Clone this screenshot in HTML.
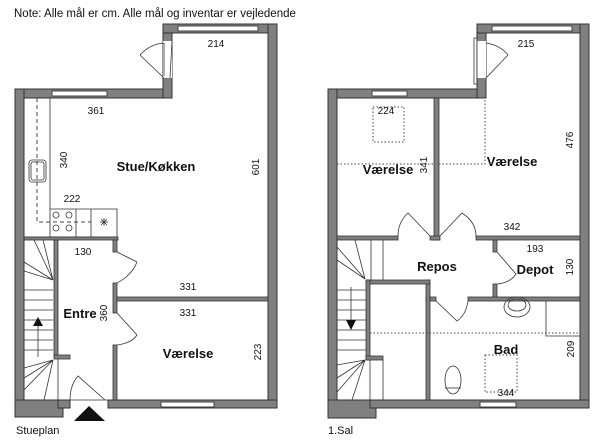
<!DOCTYPE html>
<html><head><meta charset="utf-8"><style>
html,body{margin:0;padding:0;background:#fff;}
svg{display:block;}
text{font-family:"Liberation Sans",sans-serif;fill:#111;}
.w{fill:#808080;stroke:#333;stroke-width:1;}
.t{fill:#808080;stroke:#333;stroke-width:0.8;}
.win{fill:#fff;stroke:#444;stroke-width:1;}
.l{stroke:#333;stroke-width:0.8;fill:none;}
.d{stroke:#444;stroke-width:1;fill:none;stroke-dasharray:4 3;}
.dt{stroke:#444;stroke-width:1;fill:none;stroke-dasharray:1.5 2;}
.b{font-weight:bold;font-size:13px;}
.n{font-size:10px;}
</style></head><body>
<svg width="600" height="442" viewBox="0 0 600 442">
<text x="14" y="17" font-size="11.5">Note: Alle mål er cm. Alle mål og inventar er vejledende</text>

<!-- ============ LEFT PLAN ============ -->
<rect class="w" x="15" y="89" width="157" height="9"/>
<rect class="w" x="163" y="24" width="9" height="74"/>
<rect class="w" x="163" y="24" width="114" height="9"/>
<rect class="w" x="268" y="24" width="9" height="384"/>
<rect class="w" x="15" y="89" width="9" height="328"/>
<rect class="w" x="15" y="400" width="48" height="17"/>
<rect class="w" x="58" y="400" width="12" height="8"/>
<rect class="w" x="108" y="400" width="169" height="8"/>
<!-- windows -->
<rect class="win" x="52" y="91" width="55" height="5"/>
<rect class="win" x="178" y="26" width="80" height="5"/>
<rect class="win" x="161" y="402" width="53" height="5"/>
<!-- door top -->
<rect x="163" y="41" width="9" height="37" fill="#fff" stroke="none"/>
<path class="l" d="M172 41 L170 78 M164 43 L164 76 M140 55 L164 78 M140 55 Q150 44 164 43"/>
<!-- kitchen -->
<path class="l" d="M24 98 H50 V209 H117 V237 H24"/>
<path class="l" d="M50 209 V237 M76 209 V237 M91 209 V237"/>
<path class="d" d="M37 98 V222 H91"/>
<rect class="l" x="29" y="160" width="17" height="22" rx="3"/>
<rect class="l" x="31" y="162" width="13" height="18" rx="2"/>
<circle class="l" cx="56" cy="215" r="3"/><circle class="l" cx="69" cy="215" r="3"/>
<circle class="l" cx="56" cy="228" r="3"/><circle class="l" cx="69" cy="228" r="3"/>
<path class="l" d="M100 222 h8 M104 218 v8 M101 219 l6 6 M107 219 l-6 6"/>
<!-- wall kitchen/stairs -->
<rect class="t" x="24" y="237" width="94" height="3"/>
<!-- entre walls -->
<rect class="t" x="54" y="240" width="4" height="117"/>
<rect class="t" x="54" y="355" width="16" height="4"/>
<rect class="t" x="113" y="240" width="4" height="12"/>
<rect class="t" x="113" y="283" width="4" height="30"/>
<rect class="t" x="113" y="345" width="4" height="55"/>
<rect class="t" x="117" y="297" width="151" height="4"/>
<path class="l" d="M117 252 L137 262 M117 283 Q132 275 137 262 M117 313 L137 335 M117 345 Q132 343 137 335"/>
<!-- stairs left -->
<path class="l" d="M24 262 L53 280 M24 271 L53 280 M34 240 L53 280 M43 240 L53 280"/>
<path class="l" d="M24 290 H53 M24 300 H53 M24 310 H53 M24 320 H53 M24 330 H53 M24 340 H53 M24 350 H53"/>
<path class="l" d="M24 368 L53 360 M24 378 L53 360 M24 390 L53 360 M44 400 L53 360 M58 359 V400"/>
<path class="l" d="M38 323 V357"/><path d="M33 326 L43 326 L38 317 Z" fill="#111"/>
<!-- entrance door -->
<path class="l" d="M70 400 Q70 385 78 376 L105 400 M70 400 H108"/>
<path d="M74 421 L105 421 L89 406 Z" fill="#111"/>
<!-- labels left -->
<text class="n" x="216" y="47" text-anchor="middle">214</text>
<text class="n" x="96" y="114" text-anchor="middle">361</text>
<text class="n" transform="translate(67,160) rotate(-90)" text-anchor="middle">340</text>
<text class="b" x="156" y="171" text-anchor="middle">Stue/Køkken</text>
<text class="n" transform="translate(259,167) rotate(-90)" text-anchor="middle">601</text>
<text class="n" x="72" y="202" text-anchor="middle">222</text>
<text class="n" x="83" y="255" text-anchor="middle">130</text>
<text class="n" x="188" y="290" text-anchor="middle">331</text>
<text class="n" x="188" y="316" text-anchor="middle">331</text>
<text class="b" x="80" y="318" text-anchor="middle">Entre</text>
<text class="n" transform="translate(107,313) rotate(-90)" text-anchor="middle">360</text>
<text class="b" x="188" y="358" text-anchor="middle">Værelse</text>
<text class="n" transform="translate(261,352) rotate(-90)" text-anchor="middle">223</text>
<text x="16" y="434" font-size="11">Stueplan</text>

<!-- ============ RIGHT PLAN ============ -->
<rect class="w" x="328" y="89" width="158" height="9"/>
<rect class="w" x="477" y="24" width="9" height="74"/>
<rect class="w" x="477" y="24" width="112" height="9"/>
<rect class="w" x="580" y="24" width="9" height="384"/>
<rect class="w" x="328" y="89" width="9" height="329"/>
<rect class="w" x="328" y="400" width="48" height="18"/>
<rect class="w" x="370" y="400" width="219" height="8"/>
<rect class="win" x="372" y="91" width="35" height="5"/>
<rect class="win" x="492" y="26" width="80" height="5"/>
<rect class="win" x="480" y="402" width="36" height="5"/>
<!-- top door -->
<rect x="477" y="41" width="9" height="37" fill="#fff" stroke="none"/>
<path class="l" d="M474 38 H477 V84 H474 Z M486 78 L508 55 M486 43 Q500 45 508 55"/>
<!-- walls -->
<rect class="t" x="434" y="98" width="5" height="142"/>
<rect class="t" x="337" y="236" width="61" height="4"/>
<rect class="t" x="430" y="236" width="10" height="4"/>
<rect class="t" x="476" y="236" width="104" height="4"/>
<path class="l" d="M398 236 Q398 222 408 213 L430 236 M440 236 L462 213 Q476 222 476 236"/>
<rect class="t" x="493" y="240" width="4" height="12"/>
<rect class="t" x="493" y="284" width="4" height="14"/>
<path class="l" d="M497 252 L516 274 M497 284 Q510 283 516 274"/>
<rect class="t" x="468" y="297" width="112" height="4"/>
<rect class="t" x="426" y="297" width="10" height="4"/>
<path class="l" d="M436 301 L457 321 M468 301 Q466 315 457 321"/>
<rect class="t" x="426" y="280" width="4" height="120"/>
<rect class="t" x="366" y="280" width="64" height="4"/>
<rect class="t" x="366" y="280" width="4" height="80"/>
<rect class="t" x="366" y="356" width="17" height="4"/>
<!-- stairs right -->
<path class="l" d="M337 247 L365 279 M337 260 L365 279 M355 240 L365 279 M371 240 V280 M383 240 V280"/>
<path class="l" d="M337 290 H366 M337 300 H366 M337 310 H366 M337 320 H366 M337 330 H366 M337 340 H366 M337 350 H366"/>
<path class="l" d="M337 365 L365 360 M337 378 L365 360 M337 392 L365 360 M352 400 L365 360 M370 360 V400 M383 360 V400 M337 400 H366"/>
<path class="l" d="M351 287 V320"/><path d="M346 320 L356 320 L351 330 Z" fill="#111"/>
<!-- dotted -->
<rect class="dt" x="373" y="107" width="31" height="35"/>
<path class="dt" d="M337 164 H434 M439 164 H485 V98"/>
<path class="dt" d="M370 333 H580"/>
<path class="l" d="M546 301 V336 H580"/>
<rect class="dt" x="485" y="355" width="32" height="37"/>
<!-- fixtures -->
<ellipse class="l" cx="517" cy="307" rx="13" ry="10"/>
<ellipse class="l" cx="517" cy="305" rx="9" ry="6"/>
<ellipse class="l" cx="453" cy="380" rx="8" ry="14"/>
<path class="l" d="M445 388 H461"/>
<!-- labels right -->
<text class="n" x="526" y="47" text-anchor="middle">215</text>
<text class="n" x="386" y="114" text-anchor="middle">224</text>
<text class="b" x="388" y="174" text-anchor="middle">Værelse</text>
<text class="n" transform="translate(427,165) rotate(-90)" text-anchor="middle">341</text>
<text class="b" x="512" y="166" text-anchor="middle">Værelse</text>
<text class="n" transform="translate(573,140) rotate(-90)" text-anchor="middle">476</text>
<text class="n" x="512" y="230" text-anchor="middle">342</text>
<text class="b" x="437" y="271" text-anchor="middle">Repos</text>
<text class="n" x="535" y="252" text-anchor="middle">193</text>
<text class="b" x="535" y="274" text-anchor="middle">Depot</text>
<text class="n" transform="translate(573,267) rotate(-90)" text-anchor="middle">130</text>
<text class="b" x="506" y="354" text-anchor="middle">Bad</text>
<text class="n" transform="translate(574,349) rotate(-90)" text-anchor="middle">209</text>
<text class="n" x="506" y="396" text-anchor="middle">344</text>
<text x="328" y="434" font-size="11">1.Sal</text>
</svg>
</body></html>
